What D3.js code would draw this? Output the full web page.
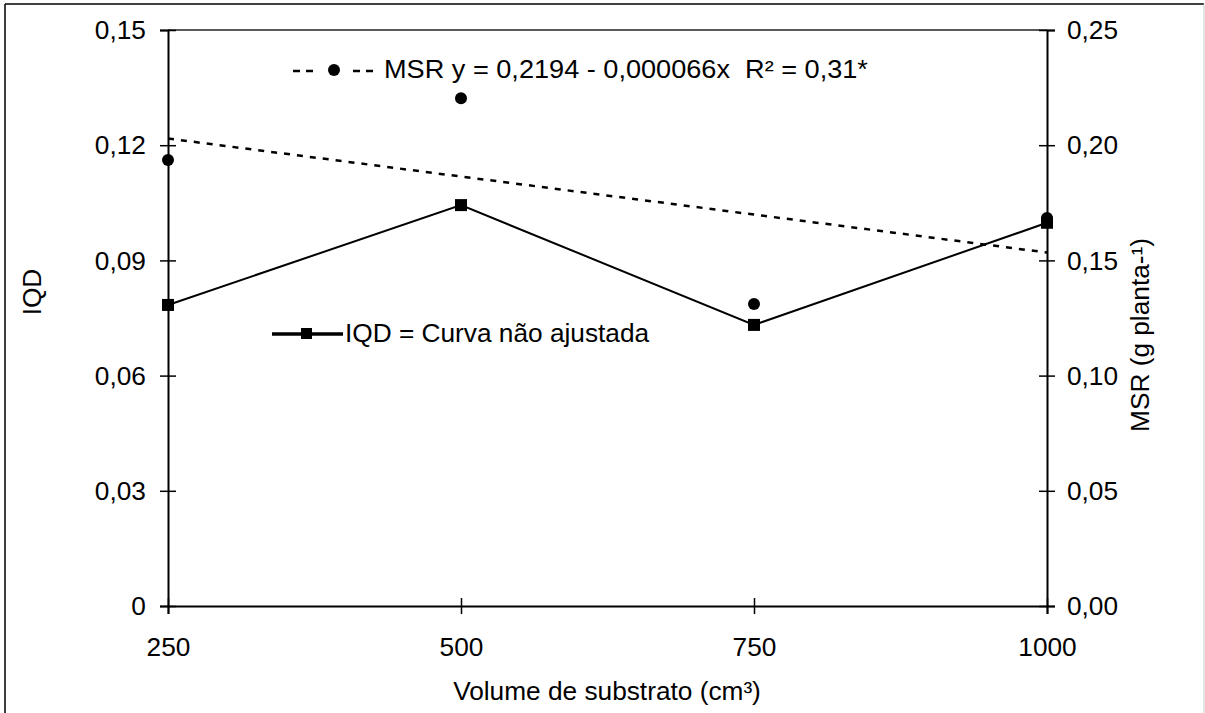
<!DOCTYPE html>
<html>
<head>
<meta charset="utf-8">
<script src="https://cdn.jsdelivr.net/npm/d3@7"></script>
<style>
  html, body { margin: 0; padding: 0; background: #fff; }
  svg { display: block; }
  text { font-family: "Liberation Sans", Arial, sans-serif; font-size: 25px; fill: #000; white-space: pre; }
</style>
</head>
<body>
<svg id="chart" width="1205" height="713"></svg>
<script>
// Volume of substrate (cm³)
const volumes = [250, 500, 750, 1000];
// IQD per volume (left axis)
const iqd = [0.0784, 0.1044, 0.0732, 0.0998];
// MSR per volume, g planta-¹ (right axis)
const msr = [0.1936, 0.2204, 0.1311, 0.1684];
// Linear fit of MSR: y = intercept + slope * x
const msrIntercept = 0.2194;
const msrSlope = -0.000066;

const xTicks = [250, 500, 750, 1000];
const leftTicks = [0, 0.03, 0.06, 0.09, 0.12, 0.15];
const rightTicks = [0, 0.05, 0.10, 0.15, 0.20, 0.25];

const fmtLeft = d => d === 0 ? "0" : d3.format(".2f")(d).replace(".", ",");
const fmtRight = d => d3.format(".2f")(d).replace(".", ",");

const SX = 1.05; // slight horizontal stretch of the lettering

const svg = d3.select("#chart");
const plot = { left: 168, right: 1047, top: 30, bottom: 606 };

const x = d3.scaleLinear().domain([250, 1000]).range([plot.left, plot.right]);
const yL = d3.scaleLinear().domain([0, 0.15]).range([plot.bottom, plot.top]);
const yR = d3.scaleLinear().domain([0, 0.25]).range([plot.bottom, plot.top]);

// outer frame
svg.append("line").attr("x1", 5).attr("x2", 1204).attr("y1", 4).attr("y2", 4)
  .attr("stroke", "#000").attr("stroke-width", 1.5);
svg.append("line").attr("x1", 5).attr("x2", 5).attr("y1", 4).attr("y2", 713)
  .attr("stroke", "#000").attr("stroke-width", 1.5);
svg.append("line").attr("x1", 1204).attr("x2", 1204).attr("y1", 4).attr("y2", 713)
  .attr("stroke", "#c8c8c8").attr("stroke-width", 1);

// plot area top border
svg.append("line").attr("x1", plot.left).attr("x2", plot.right)
  .attr("y1", plot.top).attr("y2", plot.top)
  .attr("stroke", "#222").attr("stroke-width", 1.5);

function styleAxis(g, orient) {
  g.select(".domain").attr("stroke", "#000").attr("stroke-width", 2);
  g.selectAll(".tick line").attr("stroke", "#000").attr("stroke-width", 1.5);
  if (orient === "v") g.selectAll(".tick line").attr("x1", -8).attr("x2", 8);
  else g.selectAll(".tick line").attr("y1", -8).attr("y2", 8);
  g.selectAll(".tick text").attr("font-family", null).attr("font-size", null).attr("fill", "#000");
}

// left axis (IQD)
const gL = svg.append("g").attr("transform", `translate(${plot.left},0)`)
  .call(d3.axisLeft(yL).tickValues(leftTicks).tickFormat(fmtLeft).tickSizeOuter(0).tickSize(8).tickPadding(13));
styleAxis(gL, "v");
gL.selectAll(".tick text").attr("dy", "0.35em").attr("transform", `scale(${SX},1)`);

// right axis (MSR)
const gR = svg.append("g").attr("transform", `translate(${plot.right},0)`)
  .call(d3.axisRight(yR).tickValues(rightTicks).tickFormat(fmtRight).tickSizeOuter(0).tickSize(8).tickPadding(11));
styleAxis(gR, "v");
gR.selectAll(".tick text").attr("dy", "0.35em").attr("transform", `scale(${SX},1)`);

// bottom axis (volume)
const gB = svg.append("g").attr("transform", `translate(0,${plot.bottom})`)
  .call(d3.axisBottom(x).tickValues(xTicks).tickFormat(d3.format("d")).tickSizeOuter(0).tickSize(8).tickPadding(24));
styleAxis(gB, "h");
gB.selectAll(".tick text").attr("dy", "0.71em").attr("x", 0)
  .attr("text-anchor", "middle").attr("transform", `scale(${SX},1)`);

// axis titles
function label(txt, tx, ty, rot, anchor) {
  return svg.append("text")
    .attr("transform", `translate(${tx},${ty}) rotate(${rot}) scale(${SX},1)`)
    .attr("text-anchor", anchor)
    .text(txt);
}
label("Volume de substrato (cm³)", 607, 700, 0, "middle");
label("IQD", 41, 292, -90, "middle");
label("MSR (g planta-¹)", 1149, 335, -90, "middle");

// MSR fitted trend line
const fitLine = d3.line().x(d => x(d)).y(d => yR(msrIntercept + msrSlope * d));
svg.append("path").datum([volumes[0], volumes[volumes.length - 1]])
  .attr("d", fitLine).attr("fill", "none")
  .attr("stroke", "#000").attr("stroke-width", 2.5).attr("stroke-dasharray", "6,7");

// IQD line
const iqdData = volumes.map((v, i) => [v, iqd[i]]);
svg.append("path").datum(iqdData)
  .attr("d", d3.line().x(d => x(d[0])).y(d => yL(d[1])))
  .attr("fill", "none").attr("stroke", "#000").attr("stroke-width", 2);

// MSR points
svg.selectAll("circle.msr").data(volumes.map((v, i) => [v, msr[i]])).join("circle")
  .attr("class", "msr").attr("cx", d => x(d[0])).attr("cy", d => yR(d[1])).attr("r", 6).attr("fill", "#000");

// IQD square markers
const sq = 12;
svg.selectAll("rect.iqd").data(iqdData).join("rect")
  .attr("class", "iqd").attr("x", d => x(d[0]) - sq / 2).attr("y", d => yL(d[1]) - sq / 2)
  .attr("width", sq).attr("height", sq).attr("fill", "#000");

// legend: MSR fit (two dashes, dot, two dashes)
const l1y = 71;
[[293, 313], [353, 373]].forEach(([a, b]) => {
  svg.append("line").attr("x1", a).attr("x2", b).attr("y1", l1y).attr("y2", l1y)
    .attr("stroke", "#000").attr("stroke-width", 2.5).attr("stroke-dasharray", "7,6");
});
svg.append("circle").attr("cx", 334).attr("cy", l1y - 1).attr("r", 6).attr("fill", "#000");
svg.append("text").attr("transform", `translate(384,78) scale(1.085,1)`)
  .text("MSR y = 0,2194 - 0,000066x  R² = 0,31*");

// legend: IQD
const l2y = 334;
svg.append("line").attr("x1", 272).attr("x2", 343).attr("y1", l2y).attr("y2", l2y)
  .attr("stroke", "#000").attr("stroke-width", 3.5);
svg.append("rect").attr("x", 301).attr("y", l2y - 6).attr("width", 11).attr("height", 11).attr("fill", "#000");
svg.append("text").attr("transform", `translate(345,342) scale(${SX},1)`)
  .text("IQD = Curva não ajustada");
</script>
</body>
</html>
